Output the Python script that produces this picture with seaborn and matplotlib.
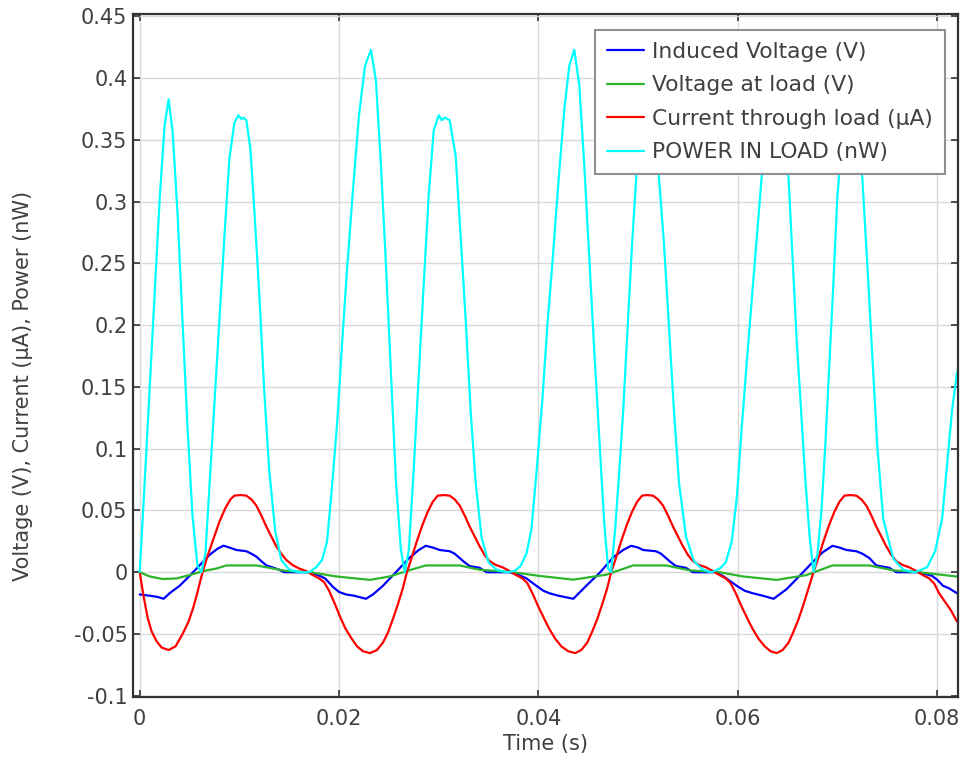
import matplotlib
matplotlib.use("Agg")
import matplotlib.pyplot as plt
import pandas as pd
import seaborn as sns
from matplotlib.ticker import FuncFormatter, MultipleLocator

# Induced voltage (V)
t_induced = [0.0000, 0.0010, 0.0018, 0.0024, 0.0030, 0.0040, 0.0050, 0.0060, 0.0070, 0.0078,
             0.0084, 0.0090, 0.0097, 0.0107, 0.0112, 0.0117, 0.0122, 0.0127, 0.0133, 0.0140,
             0.0145, 0.0157, 0.0170, 0.0178, 0.0186, 0.0194, 0.0200, 0.0207, 0.0215, 0.0227,
             0.0234, 0.0244, 0.0257, 0.0271, 0.0280, 0.0287, 0.0294, 0.0301, 0.0311, 0.0316,
             0.0321, 0.0326, 0.0331, 0.0341, 0.0348, 0.0371, 0.0380, 0.0388, 0.0398, 0.0405,
             0.0411, 0.0420, 0.0435, 0.0448, 0.0462, 0.0475, 0.0485, 0.0493, 0.0500, 0.0505,
             0.0518, 0.0523, 0.0528, 0.0533, 0.0538, 0.0548, 0.0555, 0.0578, 0.0585, 0.0592,
             0.0599, 0.0607, 0.0615, 0.0625, 0.0636, 0.0649, 0.0662, 0.0675, 0.0685, 0.0695,
             0.0702, 0.0709, 0.0719, 0.0725, 0.0732, 0.0739, 0.0752, 0.0759, 0.0782, 0.0795,
             0.0800, 0.0806, 0.0812, 0.0820]
v_induced = [-0.018, -0.019, -0.020, -0.0215, -0.017, -0.011, -0.003, 0.0055, 0.014, 0.019,
             0.0215, 0.020, 0.018, 0.017, 0.015, 0.0127, 0.009, 0.0055, 0.004, 0.002,
             0.000, 0.000, 0.000, -0.002, -0.005, -0.012, -0.016, -0.018, -0.019, -0.0215,
             -0.018, -0.011, 0.000, 0.012, 0.018, 0.0214, 0.020, 0.018, 0.017, 0.015,
             0.0115, 0.008, 0.005, 0.0036, 0.000, 0.000, -0.002, -0.005, -0.011, -0.015,
             -0.017, -0.019, -0.0215, -0.011, 0.000, 0.012, 0.018, 0.0214, 0.020, 0.018,
             0.017, 0.015, 0.0115, 0.008, 0.005, 0.0036, 0.000, 0.000, -0.003, -0.007,
             -0.011, -0.015, -0.017, -0.019, -0.0215, -0.0137, -0.003, 0.008, 0.016, 0.0214,
             0.020, 0.018, 0.017, 0.015, 0.0115, 0.0055, 0.0036, 0.000, 0.000, -0.003,
             -0.006, -0.011, -0.013, -0.017]

# Voltage at load (V)
t_load = [0.0000, 0.0010, 0.0023, 0.0037, 0.0050, 0.0064, 0.0077, 0.0087, 0.0117, 0.0130,
          0.0147, 0.0171, 0.0197, 0.0231, 0.0251, 0.0268, 0.0287, 0.0321, 0.0341, 0.0375,
          0.0401, 0.0435, 0.0468, 0.0495, 0.0528, 0.0552, 0.0582, 0.0605, 0.0639, 0.0669,
          0.0695, 0.0732, 0.0756, 0.0782, 0.0820]
v_load = [0.000, -0.0034, -0.0055, -0.005, -0.0023, 0.001, 0.003, 0.0055, 0.0055, 0.0036,
          0.001, 0.000, -0.0034, -0.0062, -0.0034, 0.001, 0.0055, 0.0055, 0.002, 0.000,
          -0.003, -0.006, -0.002, 0.0055, 0.0055, 0.0015, 0.000, -0.0034, -0.0062, -0.0023,
          0.0055, 0.0055, 0.0015, 0.000, -0.0035]

# Current through load (uA)
t_current = [0.0000, 0.0004, 0.0008, 0.0012, 0.0017, 0.0022, 0.0029, 0.0036, 0.0043, 0.0049,
             0.0054, 0.0058, 0.0063, 0.0068, 0.0074, 0.0080, 0.0086, 0.0091, 0.0095, 0.0101,
             0.0107, 0.0112, 0.0117, 0.0122, 0.0127, 0.0132, 0.0137, 0.0142, 0.0147, 0.0153,
             0.0160, 0.0167, 0.0173, 0.0180, 0.0185, 0.0190, 0.0196, 0.0201, 0.0206, 0.0212,
             0.0218, 0.0224, 0.0231, 0.0238, 0.0244, 0.0249, 0.0254, 0.0259, 0.0264, 0.0268,
             0.0273, 0.0278, 0.0284, 0.0289, 0.0294, 0.0299, 0.0305, 0.0311, 0.0316, 0.0321,
             0.0326, 0.0331, 0.0336, 0.0341, 0.0346, 0.0351, 0.0357, 0.0364, 0.0371, 0.0377,
             0.0384, 0.0389, 0.0394, 0.0400, 0.0406, 0.0411, 0.0417, 0.0423, 0.0430, 0.0437,
             0.0443, 0.0449, 0.0454, 0.0459, 0.0464, 0.0469, 0.0473, 0.0478, 0.0483, 0.0489,
             0.0494, 0.0499, 0.0504, 0.0509, 0.0515, 0.0520, 0.0525, 0.0530, 0.0535, 0.0540,
             0.0545, 0.0550, 0.0555, 0.0561, 0.0568, 0.0575, 0.0581, 0.0588, 0.0593, 0.0598,
             0.0604, 0.0610, 0.0615, 0.0621, 0.0627, 0.0633, 0.0639, 0.0645, 0.0651, 0.0656,
             0.0661, 0.0666, 0.0671, 0.0676, 0.0681, 0.0686, 0.0692, 0.0697, 0.0702, 0.0707,
             0.0713, 0.0719, 0.0724, 0.0729, 0.0734, 0.0739, 0.0744, 0.0749, 0.0754, 0.0759,
             0.0765, 0.0772, 0.0779, 0.0785, 0.0792, 0.0797, 0.0802, 0.0808, 0.0814, 0.0820]
i_current = [0.000, -0.020, -0.037, -0.048, -0.056, -0.061, -0.063, -0.060, -0.050, -0.040,
             -0.028, -0.016, 0.000, 0.013, 0.027, 0.041, 0.052, 0.059, 0.062, 0.0625,
             0.062, 0.059, 0.054, 0.046, 0.037, 0.029, 0.021, 0.015, 0.010, 0.006,
             0.003, 0.001, -0.002, -0.005, -0.008, -0.015, -0.026, -0.036, -0.045, -0.053,
             -0.060, -0.064, -0.0655, -0.063, -0.057, -0.049, -0.038, -0.026, -0.013, 0.000,
             0.012, 0.025, 0.039, 0.049, 0.057, 0.062, 0.0625, 0.062, 0.059, 0.054,
             0.046, 0.037, 0.029, 0.021, 0.014, 0.009, 0.006, 0.004, 0.001, -0.002,
             -0.005, -0.009, -0.017, -0.028, -0.038, -0.046, -0.054, -0.060, -0.064, -0.0655,
             -0.063, -0.057, -0.048, -0.038, -0.026, -0.013, 0.000, 0.012, 0.025, 0.039,
             0.049, 0.057, 0.062, 0.0625, 0.062, 0.059, 0.054, 0.046, 0.037, 0.029,
             0.021, 0.014, 0.009, 0.006, 0.004, 0.001, -0.002, -0.005, -0.009, -0.017,
             -0.028, -0.038, -0.046, -0.054, -0.060, -0.064, -0.0655, -0.063, -0.057, -0.048,
             -0.038, -0.026, -0.013, 0.000, 0.012, 0.025, 0.039, 0.049, 0.057, 0.062,
             0.0625, 0.062, 0.059, 0.054, 0.046, 0.037, 0.029, 0.021, 0.014, 0.009,
             0.006, 0.004, 0.001, -0.002, -0.005, -0.009, -0.017, -0.024, -0.031, -0.040]

# Power in load (nW)
t_power = [0.0000, 0.0005, 0.0010, 0.0015, 0.0020, 0.0025, 0.0029, 0.0033, 0.0038, 0.0043,
           0.0048, 0.0053, 0.0058, 0.0062, 0.0066, 0.0070, 0.0075, 0.0080, 0.0085, 0.0090,
           0.0095, 0.0099, 0.0102, 0.0104, 0.0107, 0.0111, 0.0115, 0.0120, 0.0125, 0.0130,
           0.0136, 0.0142, 0.0150, 0.0160, 0.0170, 0.0177, 0.0183, 0.0188, 0.0193, 0.0198,
           0.0203, 0.0208, 0.0214, 0.0220, 0.0226, 0.0232, 0.0237, 0.0242, 0.0247, 0.0252,
           0.0257, 0.0262, 0.0266, 0.0270, 0.0275, 0.0280, 0.0285, 0.0290, 0.0295, 0.0300,
           0.0303, 0.0306, 0.0311, 0.0317, 0.0322, 0.0327, 0.0332, 0.0337, 0.0343, 0.0350,
           0.0358, 0.0368, 0.0376, 0.0382, 0.0388, 0.0393, 0.0398, 0.0404, 0.0409, 0.0414,
           0.0420, 0.0426, 0.0431, 0.0436, 0.0441, 0.0446, 0.0451, 0.0456, 0.0461, 0.0466,
           0.0470, 0.0473, 0.0477, 0.0481, 0.0485, 0.0489, 0.0494, 0.0499, 0.0503, 0.0506,
           0.0509, 0.0512, 0.0516, 0.0521, 0.0526, 0.0531, 0.0536, 0.0541, 0.0548, 0.0556,
           0.0565, 0.0574, 0.0582, 0.0588, 0.0594, 0.0599, 0.0604, 0.0610, 0.0616, 0.0622,
           0.0628, 0.0634, 0.0639, 0.0645, 0.0651, 0.0655, 0.0659, 0.0664, 0.0668, 0.0672,
           0.0676, 0.0680, 0.0684, 0.0688, 0.0692, 0.0696, 0.0700, 0.0705, 0.0709, 0.0713,
           0.0716, 0.0720, 0.0725, 0.0730, 0.0735, 0.0740, 0.0746, 0.0756, 0.0766, 0.0778,
           0.0790, 0.0798, 0.0805, 0.0810, 0.0815, 0.0820]
p_power = [0.000, 0.073, 0.149, 0.225, 0.302, 0.362, 0.383, 0.357, 0.290, 0.202,
           0.117, 0.045, 0.005, 0.000, 0.016, 0.070, 0.137, 0.205, 0.272, 0.335,
           0.364, 0.370, 0.367, 0.368, 0.366, 0.343, 0.293, 0.225, 0.146, 0.082,
           0.033, 0.010, 0.002, 0.000, 0.000, 0.004, 0.010, 0.025, 0.070, 0.120,
           0.185, 0.245, 0.310, 0.370, 0.410, 0.423, 0.398, 0.330, 0.250, 0.162,
           0.075, 0.018, 0.000, 0.018, 0.085, 0.160, 0.234, 0.306, 0.358, 0.370,
           0.366, 0.368, 0.366, 0.337, 0.272, 0.205, 0.131, 0.073, 0.028, 0.008,
           0.002, 0.000, 0.001, 0.005, 0.015, 0.035, 0.080, 0.140, 0.200, 0.250,
           0.315, 0.375, 0.410, 0.423, 0.395, 0.330, 0.255, 0.180, 0.110, 0.040,
           0.003, 0.000, 0.035, 0.080, 0.130, 0.190, 0.266, 0.330, 0.362, 0.370,
           0.368, 0.370, 0.360, 0.319, 0.266, 0.199, 0.131, 0.073, 0.029, 0.009,
           0.002, 0.000, 0.003, 0.008, 0.025, 0.060, 0.117, 0.180, 0.240, 0.300,
           0.360, 0.410, 0.423, 0.390, 0.319, 0.255, 0.190, 0.125, 0.073, 0.030,
           0.000, 0.015, 0.050, 0.105, 0.170, 0.235, 0.305, 0.352, 0.369, 0.367,
           0.368, 0.355, 0.319, 0.249, 0.176, 0.102, 0.043, 0.011, 0.002, 0.000,
           0.004, 0.017, 0.043, 0.087, 0.131, 0.162]

series_names = ["Induced Voltage (V)", "Voltage at load (V)",
                "Current through load (\u00b5A)", "POWER IN LOAD (nW)"]

sns.set_style("ticks")
plt.rcParams["font.family"] = ["DejaVu Sans"]
plt.rcParams["axes.unicode_minus"] = False

text_col = "#404040"
fig = plt.figure(figsize=(9.64, 7.57), dpi=100)
ax = fig.add_axes([0.138, 0.0793, 0.8558, 0.9022])

series = [
    (t_induced, v_induced, "#0000ff"),
    (t_load, v_load, "#2db52d"),
    (t_current, i_current, "#ff0000"),
    (t_power, p_power, "#00ffff"),
]
for name, (t, v, col) in zip(series_names, series):
    df = pd.DataFrame({"t": t, "v": v})
    sns.lineplot(data=df, x="t", y="v", ax=ax, color=col, lw=1.6,
                 label=name, estimator=None, sort=False)

ax.set_xlim(-0.00067, 0.0821)
ax.set_ylim(-0.101, 0.452)
ax.xaxis.set_major_locator(MultipleLocator(0.02))
ax.yaxis.set_major_locator(MultipleLocator(0.05))
ax.xaxis.set_major_formatter(FuncFormatter(lambda v, p: f"{round(v, 4):g}"))
ax.yaxis.set_major_formatter(FuncFormatter(lambda v, p: f"{round(v, 4):g}"))
ax.grid(True, color="#d8d8d8", lw=1.0)
ax.set_axisbelow(True)
ax.tick_params(direction="in", top=True, right=True, length=5, width=1.2,
               color="#333333", labelsize=15, labelcolor=text_col)
ax.tick_params(axis="x", pad=9)
ax.tick_params(axis="y", pad=4)
for s in ax.spines.values():
    s.set_color("#333333")
    s.set_linewidth(1.6)

ax.set_xlabel("Time (s)", fontsize=15, color=text_col, labelpad=3)
ax.set_ylabel("Voltage (V), Current (\u00b5A), Power (nW)", fontsize=15, color=text_col)
ax.yaxis.set_label_coords(-0.121, 0.455)

leg = ax.legend(loc="upper right", bbox_to_anchor=(0.984, 0.977), borderaxespad=0,
                fontsize=15.7, frameon=True, fancybox=False, framealpha=1,
                handlelength=1.7, handletextpad=0.35, labelspacing=0.62,
                borderpad=0.55)
leg.get_frame().set_edgecolor("#909090")
leg.get_frame().set_linewidth(1.5)
for txt in leg.get_texts():
    txt.set_color(text_col)
for line in leg.get_lines():
    line.set_linewidth(1.6)

fig.savefig("out.png", dpi=100)
